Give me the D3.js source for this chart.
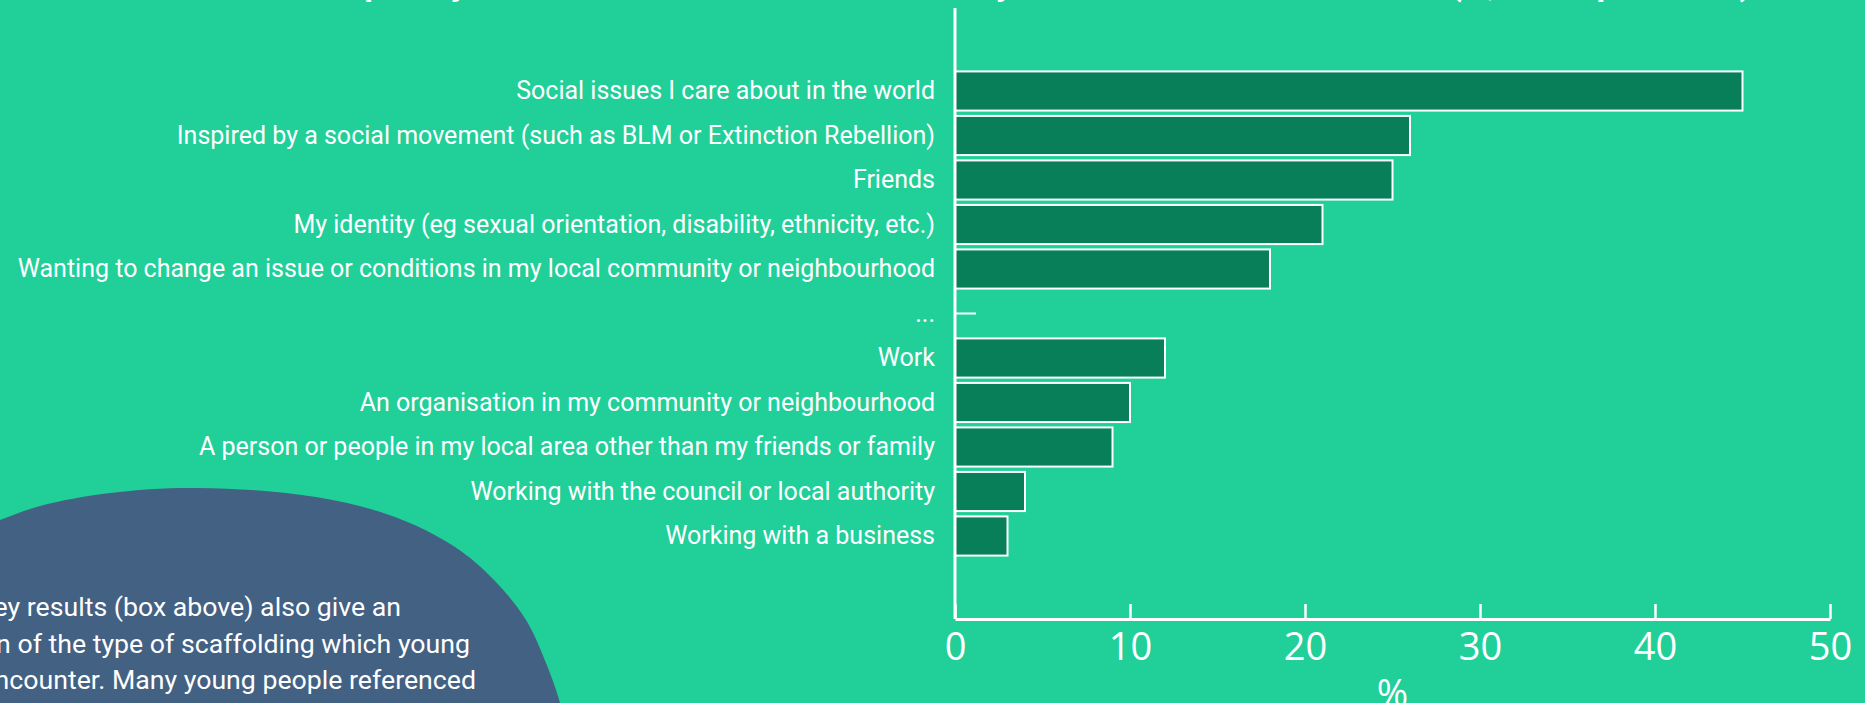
<!DOCTYPE html>
<html>
<head>
<meta charset="utf-8">
<script src="https://cdn.jsdelivr.net/npm/d3@7"></script>
<style>
  body { margin: 0; background: #21cf99; overflow: hidden; }
  svg { display: block; }
</style>
</head>
<body>
<div class="chart-wrapper"></div>
<script>
// data
const categories = [
  "Social issues I care about in the world",
  "Inspired by a social movement (such as BLM or Extinction Rebellion)",
  "Friends",
  "My identity (eg sexual orientation, disability, ethnicity, etc.)",
  "Wanting to change an issue or conditions in my local community or neighbourhood",
  "...",
  "Work",
  "An organisation in my community or neighbourhood",
  "A person or people in my local area other than my friends or family",
  "Working with the council or local authority",
  "Working with a business"
];
const values = [45, 26, 25, 21, 18, 1.2, 12, 10, 9, 4, 3];
const xTicks = [0, 10, 20, 30, 40, 50];
const xLabel = "%";
const title = "What has inspired you to become involved in action in your local area or elsewhere? (%, all respondents)";
const noteLines = [
  "The survey results (box above) also give an",
  "indication of the type of scaffolding which young",
  "people encounter. Many young people referenced"
];
// right edge of each note line as it shows in the picture
const noteEnds = [401, 470, 476];

let width = 1865;
let height = 703;

const svg = d3.select('.chart-wrapper')
.append('svg')
.attr("width", width)
.attr("height", height);

svg.append("rect")
.attr("width", width)
.attr("height", height)
.attr("fill", "#21cf99");

let x = d3.scaleLinear()
.domain([0, 50])
.range([955, 1830]);

let y = d3.scaleBand()
.domain(categories)
.range([68.75, 558.25])
.paddingInner(0.12)
.paddingOuter(0.06);

let baseline = 619;

let rows = categories.map((c, i) => ({label: c, value: values[i]}));

// title, almost all of it above the visible area
svg.append("text")
.attr("x", 960)
.attr("y", -5)
.attr("text-anchor", "middle")
.attr("fill", "#fff")
.attr("font-family", "Roboto")
.attr("font-weight", "bold")
.attr("font-size", 34)
.text(title);

// blob with note text
let blobPts = [[-20, 528], [0, 520], [40, 506], [110, 493], [198, 488], [316, 497], [395, 517],
  [455, 547], [494, 580], [526, 620], [546, 663], [560, 703], [564, 725]];
let blobLine = d3.line().curve(d3.curveCatmullRom);

svg.append("path")
.attr("d", blobLine(blobPts) + "L-20,725Z")
.attr("fill", "#436183");

svg.append("g")
.selectAll("text")
.data(noteLines)
.enter()
.append("text")
.attr("x", (d, i) => noteEnds[i])
.attr("y", (d, i) => 616 + i * 36.5)
.attr("text-anchor", "end")
.attr("fill", "#fff")
.attr("font-family", "Roboto")
.attr("font-size", 26.7)
.text(d => d);

// bars
let bars = svg.append("g")
.selectAll("rect")
.data(rows.filter(d => d.label != "..."))
.enter()
.append("rect")
.attr("x", x(0))
.attr("y", d => y(d.label))
.attr("width", d => x(d.value) - x(0))
.attr("height", y.bandwidth())
.attr("fill", "#087f59")
.attr("stroke", "#fff")
.attr("stroke-width", 2);

// the "..." row is a flat bar
svg.append("g")
.selectAll("line")
.data(rows.filter(d => d.label == "..."))
.enter()
.append("line")
.attr("x1", x(0))
.attr("x2", d => x(d.value))
.attr("y1", d => y(d.label) + y.bandwidth() / 2)
.attr("y2", d => y(d.label) + y.bandwidth() / 2)
.attr("stroke", "#fff")
.attr("stroke-width", 2);

// y axis
let yAxis = svg.append("g")
.attr("transform", `translate(${x(0)},0)`)
.call(d3.axisLeft(y).tickSize(0).tickPadding(20));

yAxis.select(".domain").remove();
yAxis.selectAll("text")
.attr("fill", "#fff")
.attr("font-family", "Roboto")
.attr("font-size", 25)
.attr("dy", "0.33em");

svg.append("line")
.attr("x1", x(0))
.attr("x2", x(0))
.attr("y1", 8)
.attr("y2", baseline)
.attr("stroke", "#fff")
.attr("stroke-width", 3);

// x axis
let xAxis = svg.append("g")
.attr("transform", `translate(0,${baseline})`)
.call(d3.axisBottom(x).tickValues(xTicks).tickSize(-15).tickSizeOuter(0).tickPadding(14));

xAxis.select(".domain")
.attr("stroke", "#fff")
.attr("stroke-width", 3);
xAxis.selectAll(".tick line")
.attr("stroke", "#fff")
.attr("stroke-width", 2.5);
xAxis.selectAll("text")
.attr("fill", "#fff")
.attr("font-family", "Open Sans")
.attr("font-size", 38);

svg.append("text")
.attr("x", (x(0) + x(50)) / 2)
.attr("y", 707)
.attr("text-anchor", "middle")
.attr("fill", "#fff")
.attr("font-family", "Open Sans")
.attr("font-size", 38)
.text(xLabel);
</script>
</body>
</html>
